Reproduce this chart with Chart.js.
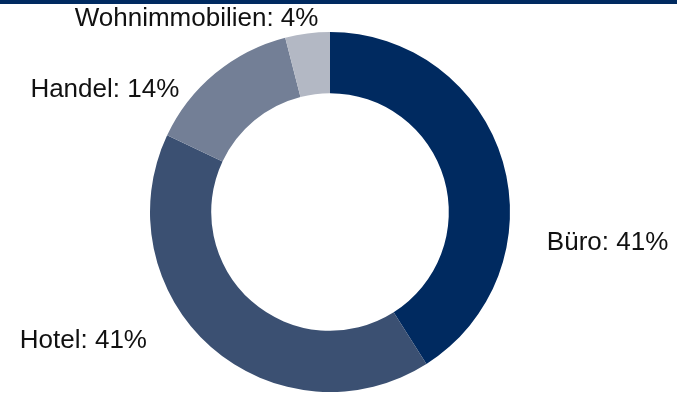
<!DOCTYPE html>
<html lang="de">
<head>
<meta charset="UTF-8">
<title>Nutzungsarten</title>
<script src="https://cdn.jsdelivr.net/npm/chart.js"></script>
<style>
  html, body { margin: 0; padding: 0; background: #fff; }
  .wrap { width: 677px; height: 390px; border-top: 4px solid #002a60; }
  canvas { display: block; }
</style>
</head>
<body>
<div class="wrap">
  <canvas id="chart" width="677" height="390"></canvas>
</div>
<script>
const categories = ['Büro', 'Hotel', 'Handel', 'Wohnimmobilien'];
const shares = [41, 41, 14, 4];
const colors = ['#002a60', '#3b5072', '#737f96', '#b3b8c4'];
// label offset from the outer middle point of each slice, plus text alignment
const labelOffsets = [[44, 81, 'left'], [-64, -6, 'right'], [-36, 17, 'right'], [11, -15, 'right']];

const outsideLabels = {
  id: 'outsideLabels',
  afterDatasetsDraw(chart) {
    const ctx = chart.ctx;
    const meta = chart.getDatasetMeta(0);
    ctx.save();
    ctx.font = '26px "Liberation Sans", Arial, sans-serif';
    ctx.fillStyle = '#111';
    ctx.textBaseline = 'middle';
    meta.data.forEach((arc, i) => {
      const p = arc.getProps(['x', 'y', 'startAngle', 'endAngle', 'outerRadius'], true);
      const mid = (p.startAngle + p.endAngle) / 2;
      const ax = p.x + Math.cos(mid) * p.outerRadius;
      const ay = p.y + Math.sin(mid) * p.outerRadius;
      const [dx, dy, align] = labelOffsets[i];
      ctx.textAlign = align;
      ctx.fillText(categories[i] + ': ' + shares[i] + '%', ax + dx, ay + dy);
    });
    ctx.restore();
  }
};

new Chart(document.getElementById('chart'), {
  type: 'doughnut',
  data: {
    labels: categories,
    datasets: [{
      data: shares,
      backgroundColor: colors,
      borderWidth: 0
    }]
  },
  options: {
    responsive: false,
    animation: false,
    cutout: '66%',
    layout: { padding: { top: 28, bottom: 2, left: 150, right: 167 } },
    plugins: {
      legend: { display: false },
      tooltip: { enabled: false }
    }
  },
  plugins: [outsideLabels]
});
</script>
</body>
</html>
